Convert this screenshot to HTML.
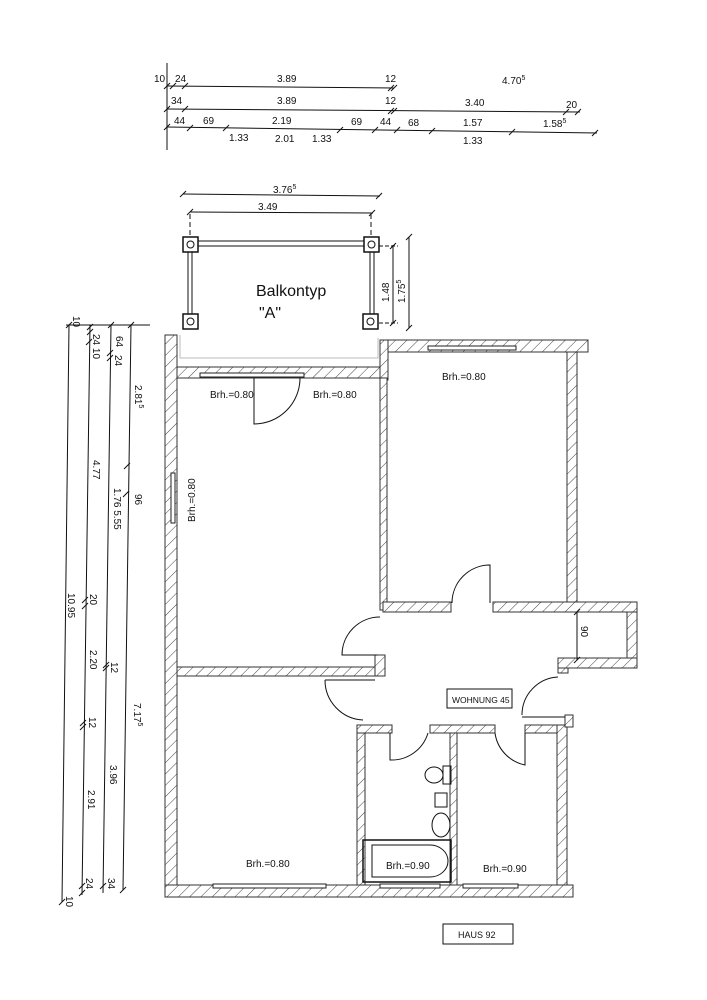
<!DOCTYPE html>
<html><head><meta charset="utf-8"><style>
html,body{margin:0;padding:0;background:#fff}
svg{display:block}
text{font-family:"Liberation Sans",sans-serif;fill:#111}
</style></head><body>
<svg width="707" height="1000" viewBox="0 0 707 1000" xmlns="http://www.w3.org/2000/svg">
<defs>
<pattern id="h" width="8" height="8" patternUnits="userSpaceOnUse" patternTransform="rotate(45)">
<rect width="8" height="8" fill="#fff"/><line x1="0" y1="0" x2="0" y2="8" stroke="#444" stroke-width="1"/>
</pattern>
<g id="tk"><line x1="-3" y1="3" x2="3" y2="-3" stroke="#111" stroke-width="1"/></g>
</defs>
<g stroke="#111" stroke-width="1" fill="none">
<line x1="167" y1="63" x2="167" y2="150"/>
<line x1="167" y1="86" x2="394" y2="88"/>
<line x1="167" y1="109" x2="580" y2="112"/>
<line x1="167" y1="127" x2="597" y2="133"/>
</g>
<g>
<use href="#tk" x="167" y="86"/><use href="#tk" x="173" y="86"/><use href="#tk" x="185" y="86"/><use href="#tk" x="391" y="88"/><use href="#tk" x="394" y="88"/>
<use href="#tk" x="167" y="109"/><use href="#tk" x="185" y="109"/><use href="#tk" x="391" y="111"/><use href="#tk" x="394" y="111"/><use href="#tk" x="566" y="112"/><use href="#tk" x="578" y="112"/>
<use href="#tk" x="167" y="127"/><use href="#tk" x="190" y="128"/><use href="#tk" x="226" y="128"/><use href="#tk" x="340" y="130"/><use href="#tk" x="375" y="130"/><use href="#tk" x="397" y="130"/><use href="#tk" x="432" y="131"/><use href="#tk" x="512" y="132"/><use href="#tk" x="595" y="133"/>
</g>
<g font-size="10">
<text x="154" y="82">10</text><text x="175" y="82">24</text><text x="277" y="82">3.89</text><text x="385" y="82">12</text><text x="502" y="84">4.70<tspan font-size="7" dy="-4">5</tspan></text>
<text x="171" y="104">34</text><text x="277" y="104">3.89</text><text x="385" y="104">12</text><text x="465" y="106">3.40</text><text x="566" y="108">20</text>
<text x="174" y="124">44</text><text x="203" y="124">69</text><text x="272" y="124">2.19</text><text x="351" y="125">69</text><text x="380" y="125">44</text><text x="408" y="126">68</text><text x="463" y="126">1.57</text><text x="543" y="127">1.58<tspan font-size="7" dy="-4">5</tspan></text>
<text x="229" y="141">1.33</text><text x="275" y="142">2.01</text><text x="312" y="142">1.33</text><text x="463" y="144">1.33</text>
</g>
<g stroke="#111" stroke-width="1" fill="none">
<line x1="183" y1="194" x2="380" y2="196"/>
<line x1="190" y1="212" x2="373" y2="213"/>
<line x1="190" y1="214" x2="190" y2="236" stroke-dasharray="5,3"/>
<line x1="371" y1="214" x2="371" y2="236" stroke-dasharray="5,3"/>
<line x1="393" y1="245" x2="393" y2="323"/>
<line x1="409" y1="237" x2="409" y2="328"/>
<line x1="379" y1="246" x2="398" y2="246" stroke-dasharray="4,2"/>
<line x1="379" y1="323" x2="398" y2="323" stroke-dasharray="4,2"/>
<rect x="183" y="237" width="15" height="15" stroke-width="1.5"/>
<rect x="364" y="237" width="15" height="15" stroke-width="1.5"/>
<rect x="183" y="314" width="15" height="15" stroke-width="1.5"/>
<rect x="363" y="314" width="15" height="15" stroke-width="1.5"/>
<circle cx="190.5" cy="244.5" r="3.5"/><circle cx="371.5" cy="244.5" r="3.5"/><circle cx="190.5" cy="321.5" r="3.5"/><circle cx="370.5" cy="321.5" r="3.5"/>
<rect x="198" y="241" width="166" height="5"/>
<rect x="188" y="252" width="4" height="62"/>
<rect x="370" y="252" width="4" height="62"/>
<path d="M170 335 L170 367 M180 335 L180 358 L378 358 L378 338" stroke="#bbb"/>
</g>
<g><use href="#tk" x="183" y="194"/><use href="#tk" x="379" y="196"/><use href="#tk" x="190" y="212"/><use href="#tk" x="372" y="213"/><use href="#tk" x="393" y="246"/><use href="#tk" x="393" y="323"/><use href="#tk" x="409" y="237"/><use href="#tk" x="409" y="328"/></g>
<text x="273" y="193" font-size="10">3.76<tspan font-size="7" dy="-4">5</tspan></text>
<text x="258" y="210" font-size="10">3.49</text>
<text x="256" y="296" font-size="16">Balkontyp</text>
<text x="259" y="318" font-size="16">"A"</text>
<text font-size="10" transform="translate(389,302) rotate(-90)">1.48</text>
<text font-size="10" transform="translate(405,303) rotate(-90)">1.75<tspan font-size="7" dy="-4">5</tspan></text>
<g stroke="#111" stroke-width="1" fill="none">
<line x1="69" y1="325" x2="62" y2="902"/>
<line x1="90" y1="325" x2="82" y2="895"/>
<line x1="111" y1="325" x2="103" y2="893"/>
<line x1="131" y1="325" x2="123" y2="890"/>
<line x1="66" y1="325" x2="150" y2="325"/>
</g>
<g><use href="#tk" x="69" y="325"/><use href="#tk" x="90" y="327"/><use href="#tk" x="90" y="332"/><use href="#tk" x="89" y="342"/><use href="#tk" x="111" y="325"/><use href="#tk" x="110" y="353"/><use href="#tk" x="110" y="358"/><use href="#tk" x="131" y="325"/><use href="#tk" x="127" y="466"/><use href="#tk" x="126" y="494"/><use href="#tk" x="85" y="600"/><use href="#tk" x="85" y="606"/><use href="#tk" x="106" y="665"/><use href="#tk" x="106" y="668"/><use href="#tk" x="83" y="723"/><use href="#tk" x="83" y="727"/><use href="#tk" x="82" y="886"/><use href="#tk" x="82" y="893"/><use href="#tk" x="103" y="886"/><use href="#tk" x="123" y="890"/><use href="#tk" x="62" y="902"/></g>
<g font-size="10">
<text transform="translate(73,316) rotate(90)">10</text>
<text transform="translate(93,334) rotate(90)">24 10</text>
<text transform="translate(116,336) rotate(90)">64</text>
<text transform="translate(115,355) rotate(90)">24</text>
<text transform="translate(135,385) rotate(90)">2.81<tspan font-size="7" dy="-4">5</tspan></text>
<text transform="translate(93,460) rotate(90)">4.77</text>
<text transform="translate(135,494) rotate(90)">96</text>
<text transform="translate(114,488) rotate(90)">1.76  5.55</text>
<text transform="translate(90,594) rotate(90)">20</text>
<text transform="translate(68,593) rotate(90)">10.95</text>
<text transform="translate(90,650) rotate(90)">2.20</text>
<text transform="translate(111,662) rotate(90)">12</text>
<text transform="translate(134,703) rotate(90)">7.17<tspan font-size="7" dy="-4">5</tspan></text>
<text transform="translate(89,717) rotate(90)">12</text>
<text transform="translate(110,765) rotate(90)">3.96</text>
<text transform="translate(88,790) rotate(90)">2.91</text>
<text transform="translate(108,878) rotate(90)">34</text>
<text transform="translate(86,878) rotate(90)">24</text>
<text transform="translate(66,896) rotate(90)">10</text>
</g>
<g fill="url(#h)" stroke="#333" stroke-width="1">
<rect x="165" y="335" width="12" height="562"/>
<rect x="177" y="367" width="208" height="11"/>
<rect x="380" y="340" width="8" height="40"/>
<rect x="380" y="378" width="7" height="232"/>
<rect x="388" y="340" width="200" height="12"/>
<rect x="567" y="352" width="10" height="252"/>
<rect x="383" y="602" width="68" height="10"/>
<rect x="493" y="602" width="144" height="10"/>
<rect x="627" y="612" width="10" height="48"/>
<rect x="558" y="658" width="79" height="10"/>
<rect x="558" y="668" width="10" height="5"/>
<rect x="177" y="667" width="200" height="9"/>
<rect x="375" y="655" width="10" height="21"/>
<rect x="357" y="725" width="8" height="160"/>
<rect x="357" y="725" width="35" height="8"/>
<rect x="430" y="725" width="65" height="8"/>
<rect x="450" y="733" width="7" height="152"/>
<rect x="525" y="725" width="42" height="8"/>
<rect x="557" y="725" width="10" height="160"/>
<rect x="565" y="715" width="8" height="12"/>
<rect x="165" y="885" width="408" height="12"/>
</g>
<g fill="#fff" stroke="#222" stroke-width="1">
<rect x="200" y="373" width="104" height="4"/>
<rect x="428" y="346" width="88" height="4"/>
<rect x="171" y="473" width="4" height="50"/>
<rect x="213" y="884" width="113" height="4"/>
<rect x="380" y="884" width="60" height="4"/>
<rect x="463" y="884" width="55" height="4"/>
</g>
<g stroke="#111" stroke-width="1" fill="none">
<path d="M254 378 L254 424 A46 46 0 0 0 300 378"/>
<path d="M490 603 L490 565 A38 38 0 0 0 452 603"/>
<path d="M380 617 A38 38 0 0 0 342 655 L378 655"/>
<path d="M325 680 A40 40 0 0 0 363 720"/>
<path d="M325 680 L375 680"/>
<path d="M390 733 L390 760 A38 38 0 0 0 428 733"/>
<path d="M495 733 A38 38 0 0 0 525 765 L525 733"/>
<path d="M522 715 A38 38 0 0 1 558 677"/>
<path d="M522 717 L565 717"/>
<line x1="577" y1="612" x2="577" y2="660"/>
<ellipse cx="434" cy="775" rx="9" ry="8"/>
<rect x="443" y="766" width="8" height="18"/>
<rect x="435" y="793" width="12" height="14"/>
<ellipse cx="441" cy="825" rx="9" ry="12"/>
<rect x="363" y="840" width="88" height="42" stroke-width="1.5"/>
<path d="M372 845 L430 845 A18 16 0 0 1 430 877 L372 877 Z"/>
</g>
<use href="#tk" x="577" y="612"/><use href="#tk" x="577" y="660"/>
<text font-size="10" transform="translate(581,626) rotate(90)">90</text>
<g font-size="10">
<text x="210" y="398">Brh.=0.80</text>
<text x="313" y="398">Brh.=0.80</text>
<text x="442" y="380">Brh.=0.80</text>
<text transform="translate(195,522) rotate(-90)">Brh.=0.80</text>
<text x="246" y="867">Brh.=0.80</text>
<text x="386" y="869">Brh.=0.90</text>
<text x="483" y="872">Brh.=0.90</text>
</g>
<rect x="447" y="689" width="65" height="19" fill="#fff" stroke="#111"/>
<text x="452" y="703" font-size="8.5">WOHNUNG 45</text>
<rect x="443" y="924" width="70" height="20" fill="#fff" stroke="#111"/>
<text x="458" y="938" font-size="9">HAUS 92</text>
</svg>
</body></html>
